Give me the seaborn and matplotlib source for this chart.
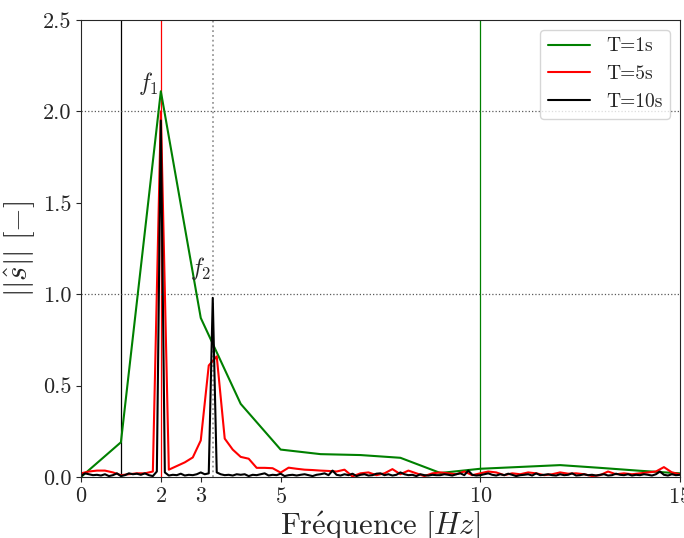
import numpy as np
import pandas as pd
import matplotlib
matplotlib.use("Agg")
import matplotlib.pyplot as plt
import seaborn as sns

# =======================
# data
# =======================
# T = 1s -> 1 Hz resolution
amp_1s = [0.0, 0.19, 2.11, 0.87, 0.40, 0.15, 0.125, 0.12, 0.105, 0.022,
          0.045, 0.055, 0.065, 0.05, 0.034, 0.02]
# T = 5s -> 0.2 Hz resolution
amp_5s = [0.02, 0.03, 0.035, 0.035, 0.025, 0.01, 0.015, 0.02, 0.02, 0.03,
          2.0, 0.04, 0.06, 0.08, 0.107, 0.2, 0.61, 0.66, 0.21, 0.15,
          0.11, 0.10, 0.05, 0.05, 0.048, 0.024, 0.051, 0.045, 0.04, 0.038,
          0.035, 0.033, 0.03, 0.04, 0.003, 0.02, 0.025, 0.01, 0.02, 0.043,
          0.015, 0.035, 0.02, 0.005, 0.02, 0.025, 0.02, 0.015, 0.03, 0.01,
          0.02, 0.03, 0.025, 0.01, 0.02, 0.015, 0.025, 0.02, 0.01, 0.015,
          0.025, 0.018, 0.02, 0.015, 0.005, 0.01, 0.03, 0.015, 0.02, 0.015,
          0.02, 0.025, 0.03, 0.054, 0.025, 0.015]
# T = 10s -> 0.1 Hz resolution
amp_10s = [0.005, 0.02, 0.015, 0.01, 0.012, 0.008, 0.015, 0.005, 0.01, 0.02,
           0.005, 0.01, 0.02, 0.015, 0.018, 0.012, 0.02, 0.01, 0.005, 0.03,
           1.95, 0.025, 0.008, 0.012, 0.01, 0.018, 0.008, 0.012, 0.01, 0.015,
           0.025, 0.015, 0.02, 0.98, 0.025, 0.015, 0.01, 0.012, 0.008, 0.015,
           0.012, 0.015, 0.005, 0.012, 0.01, 0.015, 0.02, 0.008, 0.012, 0.01,
           0.018, 0.005, 0.01, 0.012, 0.008, 0.012, 0.015, 0.01, 0.005, 0.012,
           0.015, 0.02, 0.01, 0.035, 0.012, 0.008, 0.015, 0.01, 0.018, 0.005,
           0.012, 0.015, 0.008, 0.01, 0.018, 0.02, 0.01, 0.015, 0.008, 0.012,
           0.025, 0.015, 0.01, 0.012, 0.005, 0.015, 0.01, 0.008, 0.012, 0.01,
           0.01, 0.015, 0.012, 0.008, 0.015, 0.02, 0.01, 0.035, 0.012, 0.008,
           0.01, 0.015, 0.02, 0.012, 0.008, 0.015, 0.01, 0.018, 0.012, 0.005,
           0.01, 0.012, 0.015, 0.008, 0.02, 0.01, 0.012, 0.015, 0.01, 0.008,
           0.015, 0.01, 0.012, 0.02, 0.008, 0.01, 0.015, 0.01, 0.012, 0.008,
           0.012, 0.015, 0.008, 0.01, 0.018, 0.012, 0.01, 0.015, 0.008, 0.012,
           0.01, 0.015, 0.012, 0.008, 0.015, 0.03, 0.012, 0.008, 0.015, 0.01,
           0.012]

series = [("T=1s", 1.0, amp_1s, "green"),
          ("T=5s", 0.2, amp_5s, "red"),
          ("T=10s", 0.1, amp_10s, "black")]

f1, f2 = 2.0, 3.3
xticks = [0, 2, 3, 5, 10, 15]

# =======================
# style
# =======================
sns.set_style("ticks")
plt.rcParams["font.family"] = "serif"
plt.rcParams["font.serif"] = ["cmr10", "DejaVu Serif"]
plt.rcParams["mathtext.fontset"] = "cm"
plt.rcParams["axes.formatter.use_mathtext"] = True
plt.rcParams["axes.edgecolor"] = "0.15"

fig = plt.figure(figsize=(6.84, 5.38), dpi=100)
ax = fig.add_axes([0.1184, 0.1134, 0.8756, 0.8494])

# reference lines
ax.axvline(1.0, color="black", lw=0.9)
ax.axvline(f1, color="red", lw=0.9)
ax.axvline(10.0, color="green", lw=0.9)
ax.axvline(f2, color="0.6", ls=":", lw=1.3)
ax.axhline(2.0, color="0.35", ls=":", lw=0.9)
ax.axhline(1.0, color="0.35", ls=":", lw=0.9)

for label, df_, amp, color in series:
    d = pd.DataFrame({"f": np.arange(len(amp)) * df_, "a": amp})
    sns.lineplot(data=d, x="f", y="a", color=color, lw=1.5, label=label, ax=ax)

ax.text(1.95, 2.15, r"$f_1$", fontsize=17, ha="right", va="center")
ax.text(3.25, 1.14, r"$f_2$", fontsize=17, ha="right", va="center")

ax.set_xlim(0, 15)
ax.set_ylim(0, 2.5)
ax.set_xticks(xticks)
ax.set_yticks([0.0, 0.5, 1.0, 1.5, 2.0, 2.5])
ax.set_yticklabels(["0.0", "0.5", "1.0", "1.5", "2.0", "2.5"])
ax.tick_params(labelsize=16, length=3.5, width=0.8)
ax.set_xlabel(r"$\mathrm{Fr\acute{e}quence}\ [Hz]$", fontsize=22, labelpad=2)
ax.set_ylabel(r"$||\hat{s}||\ [-]$", fontsize=22, labelpad=4)
ax.legend(loc="upper right", fontsize=14, handlelength=2.2)

fig.savefig("out.png", dpi=100)
